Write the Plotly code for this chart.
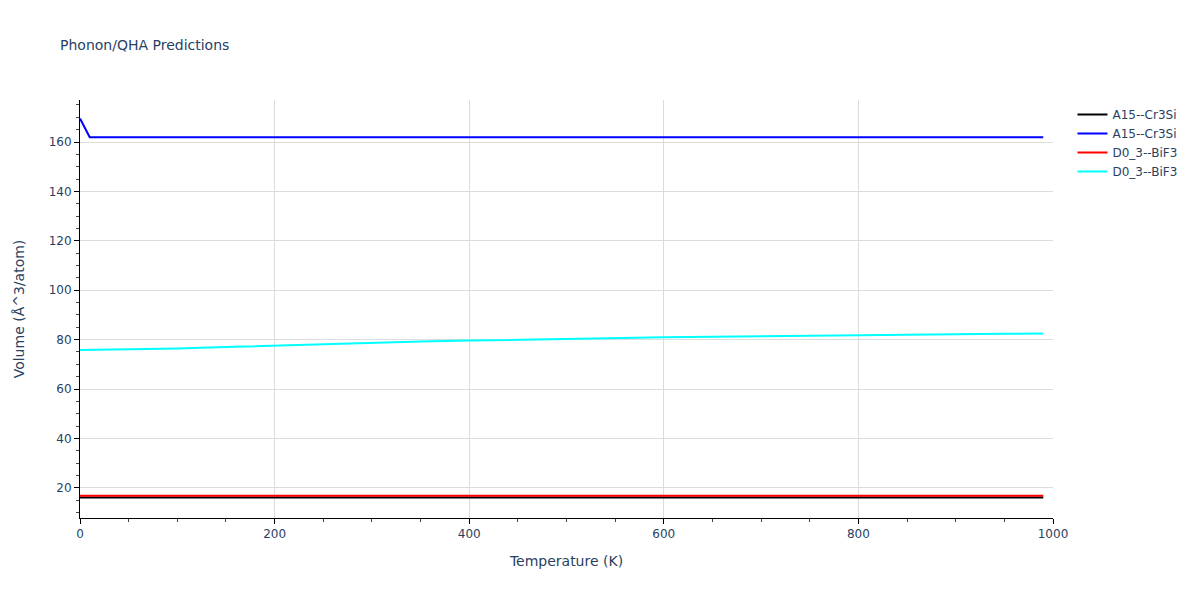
import plotly.graph_objects as go

temps = [0, 10, 50, 100, 150, 200, 250, 300, 350, 400, 450, 500, 550, 600, 650, 700, 750, 800, 850, 900, 950, 990]

a15_black = [16.1] * len(temps)
a15_blue = [169.5, 161.9, 161.9, 161.9, 161.9, 161.9, 161.9, 161.9, 161.9, 161.9, 161.9,
            161.9, 161.9, 161.9, 161.9, 161.9, 161.9, 161.9, 161.9, 161.9, 161.9, 161.9]
d03_red = [16.8] * len(temps)
d03_cyan = [75.8, 75.85, 76.0, 76.4, 77.0, 77.6, 78.2, 78.7, 79.2, 79.6, 80.0,
            80.4, 80.7, 81.0, 81.2, 81.45, 81.7, 81.9, 82.05, 82.2, 82.35, 82.45]

series = [
    ("A15--Cr3Si", a15_black, "black"),
    ("A15--Cr3Si", a15_blue, "blue"),
    ("D0_3--BiF3", d03_red, "red"),
    ("D0_3--BiF3", d03_cyan, "cyan"),
]

fig = go.Figure()
for name, vals, color in series:
    fig.add_trace(go.Scatter(x=temps, y=vals, mode="lines", name=name,
                             line=dict(color=color, width=2)))

axis_common = dict(
    showline=True, linecolor="black", linewidth=1,
    ticks="outside", tickcolor="black", ticklen=5,
    showgrid=True, gridcolor="#dcdcdc", zeroline=False,
    automargin=False,
    minor=dict(ticks="outside", ticklen=3, tickcolor="#444", showgrid=False),
)

W, H = 1184, 584
fig.update_layout(
    template="plotly_white",
    width=W, height=H,
    margin=dict(l=72, r=139, t=92, b=74, autoexpand=False),
    title=dict(text="Phonon/QHA Predictions", x=52 / W, xanchor="left",
               y=1 - 37 / H, yanchor="middle", font=dict(size=14)),
    font=dict(family="Verdana, DejaVu Sans, sans-serif", size=12, color="#2a3f5f"),
    xaxis=dict(title=dict(text="Temperature (K)", font=dict(size=14)),
               range=[0, 1000], dtick=200, minor_dtick=50, **axis_common),
    yaxis=dict(title=dict(text="Volume (Å^3/atom)", font=dict(size=14), standoff=20),
               range=[7.8, 177], dtick=20, minor_dtick=5, **axis_common),
    legend=dict(x=1.02, y=1, xanchor="left", yanchor="top"),
    plot_bgcolor="white",
)

fig.write_html("out.html")
